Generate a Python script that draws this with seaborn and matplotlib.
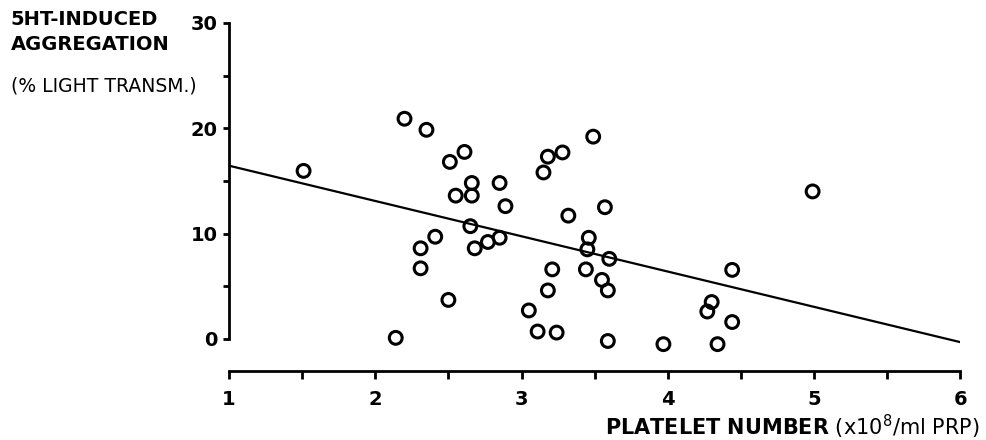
import pandas as pd
import seaborn as sns
import matplotlib.pyplot as plt
from matplotlib.ticker import MultipleLocator

# platelet number (x10^8/ml PRP) and 5HT-induced aggregation (% light transm.)
platelets = [1.51, 2.20, 2.35, 2.51, 2.61, 2.66, 2.55, 2.66, 2.85, 2.89,
             2.65, 2.41, 2.31, 2.31, 2.50, 2.14, 2.68, 2.77, 2.85, 3.15,
             3.18, 3.28, 3.49, 3.32, 3.57, 3.46, 3.45, 3.60, 3.21, 3.44,
             3.55, 3.59, 3.18, 3.05, 3.11, 3.24, 3.59, 4.44, 4.30, 4.27,
             4.44, 4.34, 3.97, 4.99]
aggregation = [15.95, 20.9, 19.85, 16.8, 17.75, 14.8, 13.6, 13.6, 14.8, 12.6,
               10.7, 9.7, 8.6, 6.7, 3.7, 0.1, 8.6, 9.2, 9.6, 15.8,
               17.3, 17.7, 19.2, 11.7, 12.5, 9.6, 8.5, 7.6, 6.6, 6.6,
               5.6, 4.6, 4.6, 2.7, 0.7, 0.6, -0.2, 6.55, 3.5, 2.6,
               1.6, -0.5, -0.5, 14.0]

df = pd.DataFrame({'platelets': platelets, 'aggregation': aggregation})

sns.set_style("ticks")
plt.rcParams['font.family'] = ['DejaVu Sans']
plt.rcParams['text.color'] = 'black'
plt.rcParams['xtick.color'] = 'black'
plt.rcParams['ytick.color'] = 'black'
plt.rcParams['axes.edgecolor'] = 'black'

fig = plt.figure(figsize=(9.87, 4.4), dpi=100)
ax = fig.add_axes([0.232, 0.157, 0.741, 0.791])
ax.set_xlim(1, 6)
ax.set_ylim(-3.04, 30)

sns.regplot(data=df, x='platelets', y='aggregation', ax=ax, ci=None, truncate=False,
            scatter_kws={'facecolors': 'none', 'edgecolors': 'black', 's': 85, 'linewidths': 2.2,
                         'alpha': 1},
            line_kws={'color': 'black', 'lw': 1.6})
ax.set_xlim(1, 6)
ax.set_ylim(-3.04, 30)

for side in ['top', 'right']:
    ax.spines[side].set_visible(False)
ax.spines['left'].set_bounds(0, 30)
ax.spines['left'].set_linewidth(2)
ax.spines['bottom'].set_linewidth(2)

ax.set_xticks([1, 2, 3, 4, 5, 6])
ax.xaxis.set_minor_locator(MultipleLocator(0.5))
ax.set_yticks([0, 10, 20, 30])
ax.yaxis.set_minor_locator(MultipleLocator(5))
ax.tick_params(which='both', direction='out', width=2, color='black', labelcolor='black')
ax.tick_params(axis='x', which='both', length=6, pad=8)
ax.tick_params(axis='y', which='both', length=4, pad=4)
for lab in ax.get_xticklabels() + ax.get_yticklabels():
    lab.set_fontweight('bold')
    lab.set_fontsize(14)

ax.set_xlabel('')
ax.set_ylabel('')

fig.text(0.011, 0.955, '5HT-INDUCED', fontsize=14, fontweight='bold', va='center')
fig.text(0.011, 0.898, 'AGGREGATION', fontsize=14, fontweight='bold', va='center')
fig.text(0.011, 0.805, '(% LIGHT TRANSM.)', fontsize=13.5, va='center')
fig.text(0.993, 0.03, r'$\bf{PLATELET\ NUMBER}$ (x10$^{8}$/ml PRP)',
         fontsize=15, ha='right', va='center')

fig.savefig('out.png', dpi=100)
